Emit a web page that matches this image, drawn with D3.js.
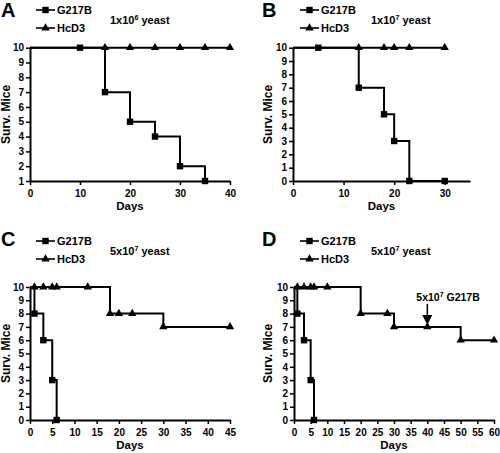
<!DOCTYPE html>
<html><head><meta charset="utf-8">
<script src="https://cdn.jsdelivr.net/npm/d3@7"></script>
<style>body{margin:0;background:#fff}svg{display:block;font-family:"Liberation Sans",Arial,sans-serif;font-weight:bold}</style>
</head><body>
<svg id="c" width="500" height="453"></svg>
<script>
// ---- data ----
const panelLetters = ["A","B","C","D"];
const doseExp = ["6","7","7","7"];
const doseMant = ["1","1","5","5"];
const seriesNames = ["G217B","HcD3"];

const A_G217B_days = [0,10,15,20,25,30,35];
const A_G217B_surv = [10,10,7,5,4,2,1];
const A_HcD3_days  = [0,15,20,25,30,35,40];
const A_HcD3_surv  = [10,10,10,10,10,10,10];

const B_G217B_days = [0,5,13,18,20,23,30];
const B_G217B_surv = [10,10,7,5,3,0,0];
const B_HcD3_days  = [0,13,18,20,23,30];
const B_HcD3_surv  = [10,10,10,10,10,10];

const C_G217B_days = [0,1,3,5,6];
const C_G217B_surv = [10,8,6,3,0];
const C_HcD3_days  = [0,1,3,5,6,13,18,20,23,30,45];
const C_HcD3_surv  = [10,10,10,10,10,10,8,8,8,7,7];

const D_G217B_days = [0,1,3,5,6];
const D_G217B_surv = [10,8,6,3,0];
const D_HcD3_days  = [0,1,3,5,6,10,20,28,30,40,50,60];
const D_HcD3_surv  = [10,10,10,10,10,10,8,8,7,7,6,6];

const xDomains = [[0,40],[0,35],[0,45],[0,60]];
const yDomains = [[1,10],[0,10],[0,10],[0,10]];
const xTicks = [[0,10,20,30,40],[0,10,20,30],[0,5,10,15,20,25,30,35,40,45],[0,5,10,15,20,25,30,35,40,45,50,55,60]];
const annotDay = 40, annotSurv = 7, annotLabel = "G217B";

// ---- layout ----
const panels = [
  {ox:0,   oy:0,   x0:30,  x1:230, y0:47.7, y1:181, legY:10},
  {ox:250, oy:0,   x0:293, x1:470, y0:47.7, y1:181, legY:10},
  {ox:0,   oy:226, x0:30,  x1:230, y0:287,  y1:420, legY:241},
  {ox:250, oy:226, x0:294, x1:494, y0:287,  y1:420, legY:241}
];
const data = [
  [[A_G217B_days,A_G217B_surv],[A_HcD3_days,A_HcD3_surv]],
  [[B_G217B_days,B_G217B_surv],[B_HcD3_days,B_HcD3_surv]],
  [[C_G217B_days,C_G217B_surv],[C_HcD3_days,C_HcD3_surv]],
  [[D_G217B_days,D_G217B_surv],[D_HcD3_days,D_HcD3_surv]]
];

const svg = d3.select("#c");
const tri = d3.symbol().type(d3.symbolTriangle).size(30);

function marker(g, type, x, y){
  if(type===0){
    g.append("rect").attr("x",x-3.2).attr("y",y-3.2).attr("width",6.4).attr("height",6.4).attr("fill","#000");
  } else {
    g.append("path").attr("d",tri()).attr("transform",`translate(${x},${y})`).attr("fill","#000");
  }
}

panels.forEach((p,i)=>{
  const g = svg.append("g");
  const x = d3.scaleLinear().domain(xDomains[i]).range([p.x0,p.x1]);
  const y = d3.scaleLinear().domain(yDomains[i]).range([p.y1,p.y0]);
  const yt = d3.range(yDomains[i][0], yDomains[i][1]+1);

  // panel letter
  g.append("text").attr("x",p.ox+(i%2?12:1)).attr("y",p.oy+(i<2?17:20)).attr("font-size",20).text(panelLetters[i]);

  // legend
  const lx0 = p.ox+(i%2?50:36), lx1 = lx0+19;
  seriesNames.forEach((n,k)=>{
    const ly = p.legY + k*18;
    g.append("line").attr("x1",lx0).attr("x2",lx1).attr("y1",ly).attr("y2",ly).attr("stroke","#000").attr("stroke-width",1.6);
    marker(g,k,(lx0+lx1)/2,ly);
    g.append("text").attr("x",lx1+2).attr("y",ly+4).attr("font-size",11).text(n);
  });
  // title
  const t = g.append("text").attr("x",p.ox+(i%2?121:110)).attr("y",p.legY+14).attr("font-size",11);
  t.append("tspan").text(doseMant[i]+"x10");
  t.append("tspan").attr("font-size",7).attr("dy",-4).text(doseExp[i]);
  t.append("tspan").attr("dy",4).text(" yeast");

  // axes
  const ax = d3.axisBottom(x).tickValues(xTicks[i]).tickSize(4).tickSizeOuter(0);
  const ay = d3.axisLeft(y).tickValues(yt).tickSize(4).tickSizeOuter(0);
  const gx = g.append("g").attr("transform",`translate(0,${p.y1})`).call(ax);
  const gy = g.append("g").attr("transform",`translate(${p.x0},0)`).call(ay);
  [gx,gy].forEach(a=>{
    a.select(".domain").attr("stroke-width",2);
    a.selectAll(".tick line").attr("stroke-width",1.5);
    a.selectAll(".tick text").attr("font-size",10).attr("font-family",null).attr("font-weight","bold");
  });
  gx.selectAll(".tick text").attr("dy","0.9em");
  gy.selectAll(".tick text").attr("dx","0.1em");

  // axis labels
  g.append("text").attr("x",(p.x0+p.x1)/2).attr("y",p.y1+29).attr("text-anchor","middle").attr("font-size",11.5).text("Days");
  g.append("text").attr("transform",`translate(${p.ox+(i%2?22:10)},${(p.y0+p.y1)/2}) rotate(-90)`).attr("text-anchor","middle").attr("font-size",12).text("Surv. Mice");

  // series
  const line = d3.line().x(d=>x(d[0])).y(d=>y(d[1])).curve(d3.curveStepAfter);
  data[i].forEach(([days,surv],k)=>{
    const pts = days.map((d,j)=>[d,surv[j]]);
    g.append("path").attr("d",line(pts)).attr("fill","none").attr("stroke","#000").attr("stroke-width",2);
  });
  data[i].forEach(([days,surv],k)=>{
    days.forEach((d,j)=>{ if(j>0) marker(g,k,x(d),y(surv[j])); });
  });

  // annotation in panel D
  if(i===3){
    const ax0 = x(annotDay), tipY = y(annotSurv)-2;
    const at = g.append("text").attr("x",ax0-11).attr("y",tipY-24).attr("font-size",10.5);
    at.append("tspan").text("5x10");
    at.append("tspan").attr("font-size",7).attr("dy",-4).text("7");
    at.append("tspan").attr("dy",4).text(" "+annotLabel);
    g.append("line").attr("x1",ax0).attr("x2",ax0).attr("y1",tipY-21).attr("y2",tipY-8).attr("stroke","#000").attr("stroke-width",1.5);
    g.append("path").attr("d",`M${ax0-5},${tipY-10}L${ax0+5},${tipY-10}L${ax0},${tipY}Z`).attr("fill","#000");
  }
});
</script>
</body></html>
